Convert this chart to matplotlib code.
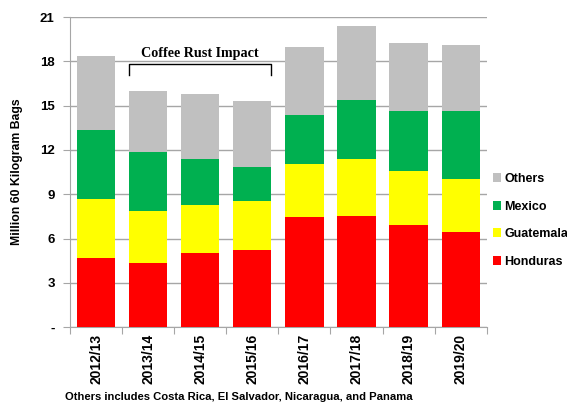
import matplotlib
matplotlib.use("Agg")
import matplotlib.pyplot as plt
import numpy as np

years = ["2012/13", "2013/14", "2014/15", "2015/16", "2016/17", "2017/18", "2018/19", "2019/20"]
honduras = [4.67, 4.34, 5.06, 5.24, 7.47, 7.56, 6.95, 6.44]
guatemala = [4.03, 3.56, 3.20, 3.32, 3.59, 3.80, 3.62, 3.63]
mexico = [4.62, 3.93, 3.16, 2.30, 3.28, 3.99, 4.06, 4.54]
others = [5.01, 4.13, 4.36, 4.43, 4.63, 5.04, 4.61, 4.49]
yticks = [0, 3, 6, 9, 12, 15, 18, 21]
ytick_labels = ["-", "3", "6", "9", "12", "15", "18", "21"]

fig = plt.figure(figsize=(5.67, 4.03), dpi=100)
W, H = 567, 403
ax = fig.add_axes([70 / W, 1 - 327.3 / H, (486.7 - 70) / W, (327.3 - 17) / H])

x = np.arange(len(years))
bw = 0.735
series = [("Honduras", honduras, "#FF0000"), ("Guatemala", guatemala, "#FFFF00"),
          ("Mexico", mexico, "#00B050"), ("Others", others, "#C0C0C0")]
bottom = np.zeros(len(years))
handles = []
for name, vals, col in series:
    b = ax.bar(x, vals, bw, bottom=bottom, color=col, label=name, zorder=3, linewidth=0)
    handles.append(b)
    bottom += np.array(vals)

ax.set_xlim(-0.5, len(years) - 0.5)
ax.set_ylim(0, 21)
ax.set_yticks(yticks)
ax.set_yticklabels(ytick_labels, fontweight="bold", fontsize=9.5, family="Liberation Sans")
ax.yaxis.grid(True, color="#A6A6A6", linewidth=1, zorder=0)
ax.set_axisbelow(True)
for s in ["top", "right"]:
    ax.spines[s].set_visible(False)
for s in ["left", "bottom"]:
    ax.spines[s].set_color("#A6A6A6")
ax.tick_params(axis="y", colors="#A6A6A6", length=5, labelcolor="black", pad=6)

ax.set_xticks(np.arange(-0.5, len(years), 1.0), minor=False)
ax.set_xticklabels([])
ax.set_xticks(x, minor=True)
ax.set_xticklabels(years, minor=True, rotation=90, fontweight="bold", fontsize=10,
                   family="Liberation Sans")
ax.tick_params(axis="x", which="major", colors="#A6A6A6", length=5)
ax.tick_params(axis="x", which="minor", length=0, pad=5, labelcolor="black")

ax.set_ylabel("Million 60 Kilogram Bags", fontweight="bold", fontsize=8.8,
              family="Liberation Sans", labelpad=12)

# bracket
xl, xr = 1 - bw / 2, 3 + bw / 2
ax.plot([xl, xl, xr, xr], [17.1, 17.84, 17.84, 17.1], color="black", linewidth=1, zorder=4)
ax.text((xl + xr) / 2, 18.55, "Coffee Rust Impact", ha="center", va="center",
        fontsize=10.2, fontweight="bold", family="Liberation Serif")

leg = fig.legend(handles[::-1], [s[0] for s in series][::-1], loc="upper left",
                 bbox_to_anchor=(488 / W, 1 - 168 / H), frameon=False,
                 prop={"family": "Liberation Sans", "weight": "bold", "size": 9},
                 handlelength=0.6, handleheight=0.7, handletextpad=0.3, labelspacing=1.25,
                 borderaxespad=0)

fig.text(65 / W, 1 - 397 / H, "Others includes Costa Rica, El Salvador, Nicaragua, and Panama",
         ha="left", va="center", fontsize=8.1, fontweight="bold", family="Liberation Sans")

fig.savefig("out.png", dpi=100)
